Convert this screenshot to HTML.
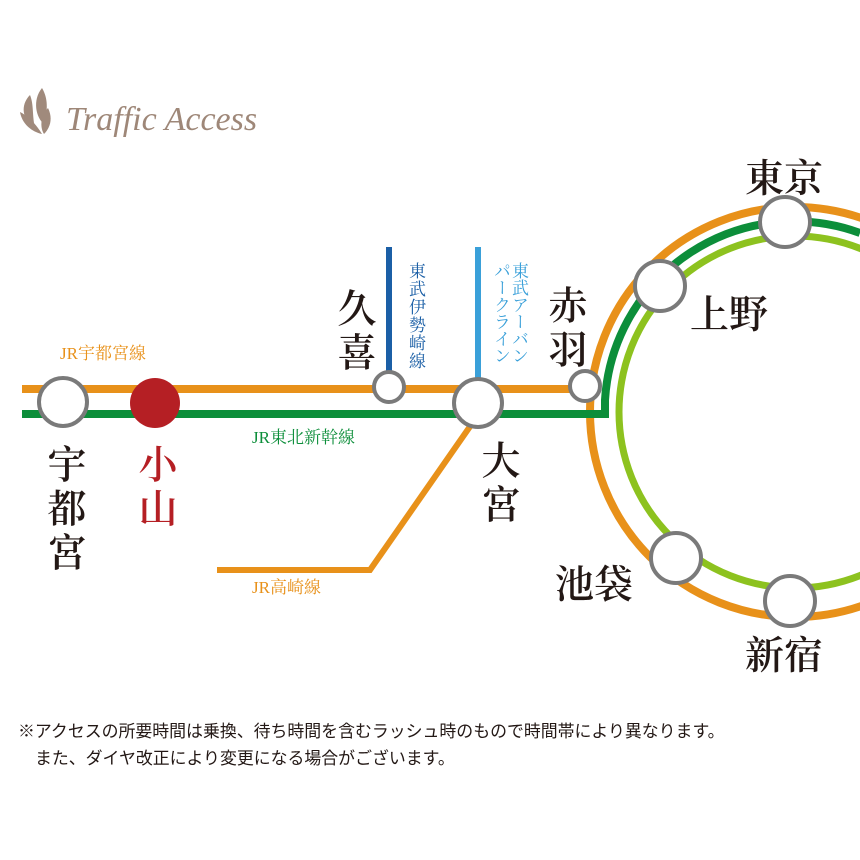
<!DOCTYPE html>
<html><head><meta charset="utf-8"><style>
body{margin:0;width:860px;height:860px;background:#fff;overflow:hidden;position:relative;font-family:"Liberation Serif","Noto Serif CJK SC",serif}
.t{position:absolute;white-space:nowrap;line-height:1}
.v{writing-mode:vertical-rl;letter-spacing:2px}
.big{font-size:39px;color:#231815;font-weight:600}
.big.v{letter-spacing:5px}
</style></head><body>
<svg width="860" height="860" style="position:absolute;left:0;top:0">
<g fill="#a08a7c">
<path d="M30 95 C20 105 22 120 35 128 C32 115 34 105 30 95Z"/>
<path d="M42 88 C32 100 36 118 44 124 C48 110 48 98 42 88Z"/>
<path d="M20 112 C22 124 32 132 42 134 C36 124 28 116 20 112Z"/>
<path d="M48 108 C40 116 40 128 44 134 C52 126 52 116 48 108Z"/>
</g>
<text x="66" y="130" font-family="Liberation Serif,serif" font-style="italic" font-size="34" fill="#9e8778">Traffic Access</text>
<circle cx="795" cy="412" r="176" fill="none" stroke="#8dc21f" stroke-width="7"/>
<circle cx="795" cy="412" r="205" fill="none" stroke="#e8911a" stroke-width="8"/>
<path d="M22 414 H605 V400 A190 190 0 0 1 860 233" fill="none" stroke="#0c8e3a" stroke-width="8"/>
<line x1="22" y1="389" x2="592" y2="389" stroke="#e8911a" stroke-width="8"/>
<polyline points="478,415 370,570 217,570" fill="none" stroke="#e8911a" stroke-width="6"/>
<line x1="389" y1="247" x2="389" y2="380" stroke="#1b5fa6" stroke-width="6"/>
<line x1="478" y1="247" x2="478" y2="380" stroke="#3aa0d9" stroke-width="6"/>
<g fill="#fff" stroke="#7a7a7a" stroke-width="4">
<circle cx="63" cy="402" r="24"/>
<circle cx="389" cy="387" r="15"/>
<circle cx="478" cy="403" r="24"/>
<circle cx="585" cy="386" r="15"/>
<circle cx="660" cy="286" r="25"/>
<circle cx="785" cy="222" r="25"/>
<circle cx="676" cy="558" r="25"/>
<circle cx="790" cy="601" r="25"/>
</g>
<circle cx="155" cy="403" r="25" fill="#b51f24"/>
</svg>
<div class="t" style="left:60px;top:345px;font-size:17px;color:#e8911a">JR宇都宮線</div>
<div class="t" style="left:252px;top:429px;font-size:17px;color:#0c8e3a">JR東北新幹線</div>
<div class="t" style="left:252px;top:579px;font-size:17px;color:#e8911a">JR高崎線</div>
<div class="t v" style="left:407px;top:262px;font-size:17px;color:#1b5fa6;letter-spacing:1px">東武伊勢崎線</div>
<div class="t v" style="left:491px;top:262px;font-size:17px;color:#3aa0d9;letter-spacing:0;line-height:18px">東武アーバン<br>パークライン</div>
<div class="t big" style="left:745px;top:160px">東京</div>
<div class="t big" style="left:690px;top:296px">上野</div>
<div class="t big" style="left:555px;top:566px">池袋</div>
<div class="t big" style="left:745px;top:637px">新宿</div>
<div class="t big v" style="left:545px;top:285px">赤羽</div>
<div class="t big v" style="left:334px;top:288px">久喜</div>
<div class="t big v" style="left:478px;top:440px">大宮</div>
<div class="t big v" style="left:44px;top:444px">宇都宮</div>
<div class="t big v" style="left:135px;top:444px;color:#b51f24">小山</div>
<div class="t" style="left:18px;top:724px;font-size:16.9px;color:#231815;font-family:'Liberation Sans','Noto Sans CJK JP',sans-serif">※アクセスの所要時間は乗換、待ち時間を含むラッシュ時のもので時間帯により異なります。</div>
<div class="t" style="left:35px;top:751px;font-size:16.9px;color:#231815;font-family:'Liberation Sans','Noto Sans CJK JP',sans-serif">また、ダイヤ改正により変更になる場合がございます。</div>
</body></html>
